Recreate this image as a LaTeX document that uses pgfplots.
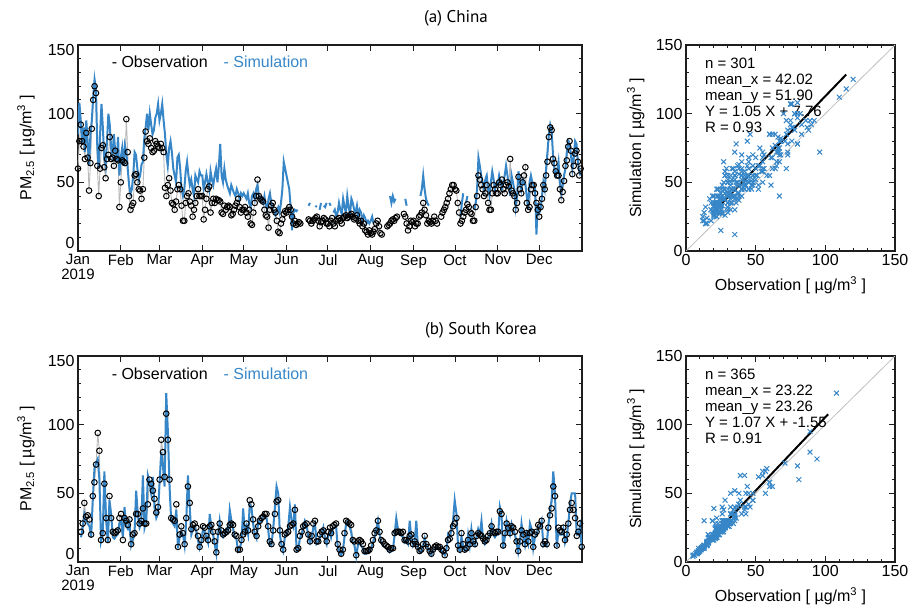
\documentclass[border=0pt]{standalone}
\usepackage{fontspec}
\setmainfont{Liberation Sans}
\newfontfamily\titlefont{PT Sans}
\usepackage{pgfplots}
\usepackage{pgfplotstable}
\pgfplotsset{compat=1.18}
\definecolor{simblue}{RGB}{55,135,200}
\definecolor{framec}{RGB}{30,30,30}

\pgfplotstableread[row sep=\\]{
day obs sim\\
0 60 85\\1 80 108\\2 92 95\\3 80 78\\4 76 90\\5 67 72\\6 86 95\\7 68 80\\8 44 62\\9 64 85\\10 89 95\\11 110 112\\12 120 125\\13 115 118\\14 62 75\\15 40 60\\16 60 85\\17 75 107\\18 77 90\\19 61 68\\20 53 62\\21 67 80\\22 70 100\\23 83 92\\24 67 75\\25 68 70\\26 62 85\\27 73 72\\28 67 65\\29 66 83\\30 32 55\\
31 50 68\\32 66 75\\33 65 62\\34 64 77\\35 96 72\\36 72 60\\37 40 48\\38 30 42\\39 33 45\\40 35 55\\41 55 72\\42 56 70\\43 50 60\\44 45 52\\45 44 55\\46 38 63\\47 45 65\\48 68 82\\49 87 90\\50 80 100\\51 78 88\\52 82 100\\53 75 92\\54 72 85\\55 73 88\\56 80 97\\57 78 100\\58 76 107\\
59 75 95\\60 78 100\\61 75 107\\62 72 95\\63 46 85\\64 40 70\\65 48 62\\66 53 75\\67 44 80\\68 35 72\\69 34 60\\70 30 55\\71 36 50\\72 45 68\\73 48 70\\74 45 60\\75 33 45\\76 22 40\\77 22 45\\78 35 58\\79 40 65\\80 42 55\\81 36 48\\82 33 52\\83 25 45\\84 30 40\\85 35 55\\86 40 52\\87 45 50\\88 40 58\\89 40 55\\
90 40 55\\91 23 45\\92 30 50\\93 38 56\\94 45 50\\95 47 45\\96 28 58\\97 35 52\\98 38 48\\99 35 55\\100 38 60\\101 37 50\\102 37 62\\103 36 78\\104 28 55\\105 27 50\\106 33 60\\107 30 52\\108 32 48\\109 33 45\\110 32 42\\111 26 48\\112 27 45\\113 30 42\\114 33 40\\115 35 45\\116 38 42\\117 32 38\\118 28 42\\119 30 40\\
120 30 42\\121 32 40\\122 28 38\\123 25 42\\124 30 35\\125 20 32\\126 19 40\\127 28 42\\128 35 38\\129 40 45\\130 52 48\\131 40 40\\132 38 37\\133 37 38\\134 36 35\\135 30 40\\136 26 33\\137 25 30\\138 17 38\\139 30 42\\140 33 35\\141 35 30\\142 30 28\\143 28 26\\144 22 30\\145 14 32\\146 13 28\\147 20 35\\148 23 45\\149 27 65\\150 29 60\\
151 28 55\\152 30 50\\153 32 45\\154 30 32\\155 25 15\\156 20 28\\157 22 30\\158 19 29\\159 20 30\\160 21 nan\\161 20 nan\\162 nan nan\\163 nan nan\\164 nan nan\\165 nan nan\\166 nan nan\\167 23 33\\168 22 35\\169 20 nan\\170 22 nan\\171 23 nan\\172 24 32\\173 25 33\\174 22 nan\\175 18 30\\176 21 35\\177 22 nan\\178 24 33\\179 23 32\\180 20 35\\
181 20 nan\\182 18 35\\183 22 33\\184 24 nan\\185 20 28\\186 18 30\\187 22 25\\188 23 28\\189 24 35\\190 22 30\\191 20 27\\192 24 38\\193 25 32\\194 26 28\\195 24 40\\196 25 32\\197 26 27\\198 27 38\\199 25 35\\200 23 30\\201 24 28\\202 26 33\\203 22 25\\204 20 30\\205 22 28\\206 18 22\\207 20 26\\208 15 24\\209 14 20\\210 12 22\\211 15 20\\
212 13 22\\213 12 25\\214 14 20\\215 16 nan\\216 20 nan\\217 22 nan\\218 18 nan\\219 13 nan\\220 12 nan\\221 nan nan\\222 nan nan\\223 nan nan\\224 18 nan\\225 19 nan\\226 20 40\\227 22 35\\228 23 40\\229 22 36\\230 24 38\\231 25 nan\\232 nan nan\\233 nan nan\\234 nan nan\\235 nan nan\\236 27 nan\\237 25 38\\238 20 33\\239 15 nan\\240 18 nan\\241 22 nan\\242 21 nan\\
243 22 nan\\244 18 nan\\245 20 nan\\246 20 nan\\247 25 nan\\248 26 40\\249 28 45\\250 35 55\\251 30 45\\252 26 38\\253 20 35\\254 22 33\\255 21 nan\\256 20 nan\\257 22 nan\\258 25 nan\\259 22 nan\\260 20 nan\\261 nan nan\\262 nan nan\\263 25 nan\\264 28 nan\\265 30 nan\\266 32 nan\\267 35 nan\\268 38 nan\\269 42 nan\\270 45 nan\\271 48 nan\\272 48 nan\\
273 45 nan\\274 44 nan\\275 35 nan\\276 28 nan\\277 20 25\\278 22 35\\279 25 42\\280 28 nan\\281 30 35\\282 34 40\\283 32 nan\\284 28 nan\\285 27 nan\\286 22 nan\\287 22 30\\288 32 35\\289 40 45\\290 55 68\\291 52 62\\292 48 55\\293 45 50\\294 40 45\\295 42 52\\296 48 55\\297 35 45\\298 30 40\\299 30 50\\300 42 58\\301 48 52\\302 45 45\\303 42 48\\
304 42 48\\305 50 55\\306 48 50\\307 52 45\\308 45 50\\309 42 55\\310 48 62\\311 50 55\\312 47 48\\313 67 40\\314 44 55\\315 42 50\\316 40 45\\317 30 32\\318 35 40\\319 54 58\\320 45 50\\321 42 45\\322 50 52\\323 55 50\\324 61 48\\325 35 40\\326 30 30\\327 32 50\\328 45 55\\329 48 50\\330 48 48\\331 42 45\\332 35 12\\333 30 35\\
334 25 28\\335 32 30\\336 38 40\\337 48 50\\338 45 45\\339 55 60\\340 65 72\\341 83 85\\342 90 92\\343 88 88\\344 67 70\\345 64 60\\346 58 55\\347 55 58\\348 55 65\\349 45 50\\350 37 42\\351 43 48\\352 51 55\\353 62 60\\354 66 72\\355 76 80\\356 80 78\\357 73 70\\358 56 60\\359 62 68\\360 71 80\\361 73 78\\362 65 65\\363 55 58\\364 60 55\\
}\china

\pgfplotstableread[row sep=\\]{
day obs sim\\
2.2 22 18\\3.4 28 25\\4.6 43 35\\5.8 33 30\\7.0 34 28\\8.3 31 26\\9.5 20 18\\10.7 48 45\\11.9 58 68\\13.1 71 72\\
14.3 94 75\\15.5 81 60\\16.7 16 15\\17.9 21 20\\19.1 57 66\\20.4 32 30\\21.6 16 14\\22.8 48 45\\24.0 32 35\\25.2 22 18\\
26.4 21 17\\27.6 22 19\\28.8 23 20\\30.0 32 28\\31.2 35 30\\32.5 16 18\\33.7 32 40\\34.9 30 26\\36.1 27 24\\37.3 31 28\\
38.5 13 12\\39.7 20 16\\40.9 21 20\\42.1 35 52\\43.3 35 35\\44.6 28 25\\45.8 30 28\\47.0 39 63\\48.2 28 25\\49.4 28 30\\
50.6 42 63\\51.8 60 58\\53.0 57 50\\54.2 52 62\\55.4 46 40\\56.7 36 32\\57.9 40 35\\59.1 60 58\\60.3 89 80\\61.5 80 70\\
62.7 62 55\\63.9 108 123\\65.1 89 95\\66.3 60 55\\67.5 32 30\\68.8 31 28\\70.0 30 26\\71.2 42 38\\72.4 11 10\\73.6 20 18\\
74.8 26 22\\76.0 21 20\\77.2 13 12\\78.4 32 30\\79.6 55 63\\80.9 43 40\\82.1 24 20\\83.3 27 24\\84.5 28 25\\85.7 25 22\\
86.9 19 16\\88.1 11 10\\89.3 16 14\\90.5 26 24\\91.7 25 22\\93.0 19 18\\94.2 16 14\\95.4 26 35\\96.6 27 25\\97.8 22 20\\
99.0 15 13\\100.2 7 6\\101.4 22 20\\102.6 28 30\\103.8 23 20\\105.1 20 18\\106.3 21 20\\107.5 22 24\\108.7 23 22\\109.9 27 38\\
111.1 28 30\\112.3 27 24\\113.5 20 18\\114.7 19 17\\115.9 9 8\\117.2 9 10\\118.4 16 15\\119.6 20 39\\120.8 22 22\\122.0 28 26\\
123.2 23 20\\124.4 45 42\\125.6 42 40\\126.8 31 28\\128.0 22 20\\129.3 19 17\\130.5 26 30\\131.7 30 28\\132.9 32 30\\134.1 33 35\\
135.3 35 33\\136.5 35 32\\137.7 26 24\\138.9 15 12\\140.1 13 12\\141.4 23 25\\142.6 35 40\\143.8 44 55\\145.0 45 50\\146.2 23 20\\
147.4 13 12\\148.6 9 8\\149.8 20 18\\151.0 21 20\\152.2 22 25\\153.5 26 40\\154.7 27 30\\155.9 28 26\\157.1 38 42\\158.3 9 8\\
159.5 10 9\\160.7 19 17\\161.9 22 20\\163.1 26 25\\164.3 27 30\\165.6 28 27\\166.8 20 18\\168.0 15 14\\169.2 19 17\\170.4 28 25\\
171.6 30 28\\172.8 15 13\\174.0 15 14\\175.2 20 18\\176.4 22 20\\177.7 23 25\\178.9 19 17\\180.1 15 13\\181.3 22 20\\182.5 25 22\\
183.3 21 18\\184.5 26 24\\185.7 27 25\\186.9 28 26\\188.1 13 11\\189.4 9 7\\190.6 6 5\\191.8 9 8\\193.0 21 18\\194.2 30 28\\
195.4 29 30\\196.6 28 26\\197.8 27 22\\199.0 16 14\\200.2 15 12\\201.5 5 4\\202.7 15 12\\203.9 16 14\\205.1 15 12\\206.3 13 10\\
207.5 8 6\\208.7 8 6\\209.9 8 7\\211.1 9 8\\212.3 12 10\\213.6 16 14\\214.8 21 18\\216.0 23 24\\217.2 30 30\\218.4 22 20\\
219.6 16 14\\220.8 15 12\\222.0 13 11\\223.2 12 10\\224.4 11 9\\225.7 9 7\\226.9 10 8\\228.1 10 9\\229.3 21 20\\230.5 22 32\\
231.7 22 24\\232.9 22 20\\234.1 21 20\\235.3 22 18\\236.5 16 14\\237.8 16 15\\239.0 15 13\\240.2 19 30\\241.4 20 18\\242.6 13 12\\
243.8 15 15\\245.0 13 30\\246.2 11 10\\247.4 8 7\\248.6 9 8\\249.9 13 12\\251.1 19 17\\252.3 13 12\\253.5 11 10\\254.7 8 7\\
255.9 6 5\\257.1 9 8\\258.3 11 10\\259.5 12 11\\260.7 11 10\\262.0 11 10\\263.2 9 8\\264.4 8 7\\265.6 5 5\\266.8 10 9\\
268.0 16 20\\269.2 17 18\\270.4 21 24\\271.6 26 30\\272.8 28 45\\274.1 32 35\\275.3 12 10\\276.5 9 8\\277.7 21 18\\278.9 13 12\\
280.1 9 8\\281.3 10 9\\282.5 16 20\\283.7 13 12\\284.9 21 24\\286.2 15 14\\287.4 13 12\\288.6 19 18\\289.8 21 24\\291.0 20 20\\
292.2 19 30\\293.4 17 16\\294.6 15 13\\295.8 16 15\\297.0 19 18\\298.3 21 20\\299.5 26 28\\300.7 22 20\\301.9 21 18\\303.1 22 20\\
304.3 22 20\\305.5 37 40\\306.7 35 34\\307.9 12 10\\309.1 21 18\\310.4 28 30\\311.6 25 24\\312.8 21 20\\314.0 26 28\\315.2 25 24\\
316.4 22 20\\317.6 15 14\\318.8 8 7\\320.0 15 14\\321.2 23 28\\322.5 20 18\\323.7 13 12\\324.9 21 20\\326.1 15 14\\327.3 21 28\\
328.5 22 24\\329.7 11 10\\330.9 20 18\\332.1 22 20\\333.3 27 25\\334.6 26 26\\335.8 30 30\\337.0 13 12\\338.2 15 14\\339.4 13 12\\
340.6 25 26\\341.8 34 38\\343.0 39 45\\344.2 55 66\\345.4 48 50\\346.7 12 11\\347.9 25 22\\349.1 23 20\\350.3 22 20\\351.5 25 24\\
352.7 16 14\\353.9 20 18\\355.1 28 28\\356.3 38 42\\357.5 43 50\\358.8 38 50\\360.0 32 50\\361.2 19 20\\362.4 22 20\\363.6 28 26\\
364.8 11 10\\
}\korea

\pgfplotsset{
  idlaxis/.style={
    scale only axis,
    axis line style={line width=1.3pt, framec},
    every tick/.style={framec, line width=0.9pt},
    tick align=inside,
    major tick length=6pt,
    minor tick length=3pt,
    tick label style={font=\fontsize{16}{18}\selectfont},
    label style={font=\fontsize{16}{18}\selectfont},
    /pgf/number format/assume math mode=true,
  },
  tsaxis/.style={idlaxis, width=504pt, height=206pt,
    xmin=0, xmax=365, ymin=0, ymax=150,
    xtick={0,31,59,90,120,151,181,212,243,273,304,334},
    xticklabels={{Jan\\2019},Feb,Mar,Apr,May,Jun,Jul,Aug,Sep,Oct,Nov,Dec},
    xticklabel style={align=center, font=\fontsize{15}{15}\selectfont},
    ytick={0,50,100,150}, minor y tick num=4,
    yticklabel={\pgfmathsetmacro\tv{\tick}%
      \ifdim\tv pt<1pt\raisebox{2.5pt}[0pt][0pt]{0}%
      \else\ifdim\tv pt>149pt\raisebox{-11pt}[0pt][0pt]{150}%
      \else\pgfmathprintnumber{\tick}\fi\fi},
    ylabel={PM\textsubscript{2.5} [ µg/m\textsuperscript{3} ]},
    ylabel style={at={(rel axis cs:-0.103,0.5)}, anchor=center, rotate=0},
    unbounded coords=jump,
  },
  scaxis/.style={idlaxis, width=209pt, height=206pt,
    xmin=0, xmax=150, ymin=0, ymax=150,
    xtick={0,50,100,150}, ytick={0,50,100,150},
    minor x tick num=4, minor y tick num=4,
    xlabel={Observation [ µg/m\textsuperscript{3} ]},
    ylabel={Simulation [ µg/m\textsuperscript{3} ]},
    xlabel style={at={(rel axis cs:0.5,-0.165)}, anchor=center},
    ylabel style={at={(rel axis cs:-0.24,0.5)}, anchor=center, rotate=0},
  },
  obsline/.style={gray!55, line width=0.9pt},
  simline/.style={simblue, line width=2pt},
  obsmark/.style={only marks, mark=o, mark size=2.8pt, mark options={black, line width=1pt}},
  scmark/.style={only marks, mark=x, mark size=3.4pt, mark options={simblue, line width=1pt}},
}

\begin{document}
\begin{tikzpicture}
\useasboundingbox (0,0) rectangle (913pt,608pt);

\node[font=\titlefont\fontsize{17}{20}\selectfont] at (456pt,590pt) {(a) China};
\node[font=\titlefont\fontsize{17}{20}\selectfont] at (481pt,278pt) {(b) South Korea};

% (a) China time series
\begin{axis}[tsaxis, at={(78pt,357pt)}, anchor=south west]
  \addplot[obsline] table[x=day, y=obs] {\china};
  \addplot[simline] table[x=day, y=sim] {\china};
  \addplot[obsmark] table[x=day, y=obs] {\china};
  \node[anchor=west, font=\fontsize{16}{18}\selectfont, text=black] at (rel axis cs:0.06,0.917) {- Observation};
  \node[anchor=west, font=\fontsize{16}{18}\selectfont, text=simblue] at (rel axis cs:0.282,0.917) {- Simulation};
\end{axis}

% (a) China scatter
\begin{axis}[scaxis, at={(686pt,357pt)}, anchor=south west]
  \addplot[gray!50, line width=0.8pt] coordinates {(0,0) (150,150)};
  \addplot[scmark] table[x=obs, y=sim] {\china};
  \addplot[black, line width=2pt] coordinates {(20,28.76) (115,128.51)};
  \node[anchor=north west, align=left, inner sep=0pt, font=\fontsize{15}{16}\selectfont] at (rel axis cs:0.09,0.94)
    {n = 301\\mean\_x = 42.02\\mean\_y = 51.90\\Y = 1.05 X + 7.76\\R = 0.93};
\end{axis}

% (b) South Korea time series
\begin{axis}[tsaxis, at={(78pt,46pt)}, anchor=south west]
  \addplot[obsline] table[x=day, y=obs] {\korea};
  \addplot[simline] table[x=day, y=sim] {\korea};
  \addplot[obsmark] table[x=day, y=obs] {\korea};
  \node[anchor=west, font=\fontsize{16}{18}\selectfont, text=black] at (rel axis cs:0.06,0.913) {- Observation};
  \node[anchor=west, font=\fontsize{16}{18}\selectfont, text=simblue] at (rel axis cs:0.282,0.913) {- Simulation};
\end{axis}

% (b) South Korea scatter
\begin{axis}[scaxis, at={(686pt,46pt)}, anchor=south west]
  \addplot[gray!50, line width=0.8pt] coordinates {(0,0) (150,150)};
  \addplot[scmark] table[x=obs, y=sim] {\korea};
  \addplot[black, line width=2pt] coordinates {(8,7.01) (102,107.59)};
  \node[anchor=north west, align=left, inner sep=0pt, font=\fontsize{15}{16}\selectfont] at (rel axis cs:0.09,0.94)
    {n = 365\\mean\_x = 23.22\\mean\_y = 23.26\\Y = 1.07 X + -1.55\\R = 0.91};
\end{axis}
\end{tikzpicture}
\end{document}
